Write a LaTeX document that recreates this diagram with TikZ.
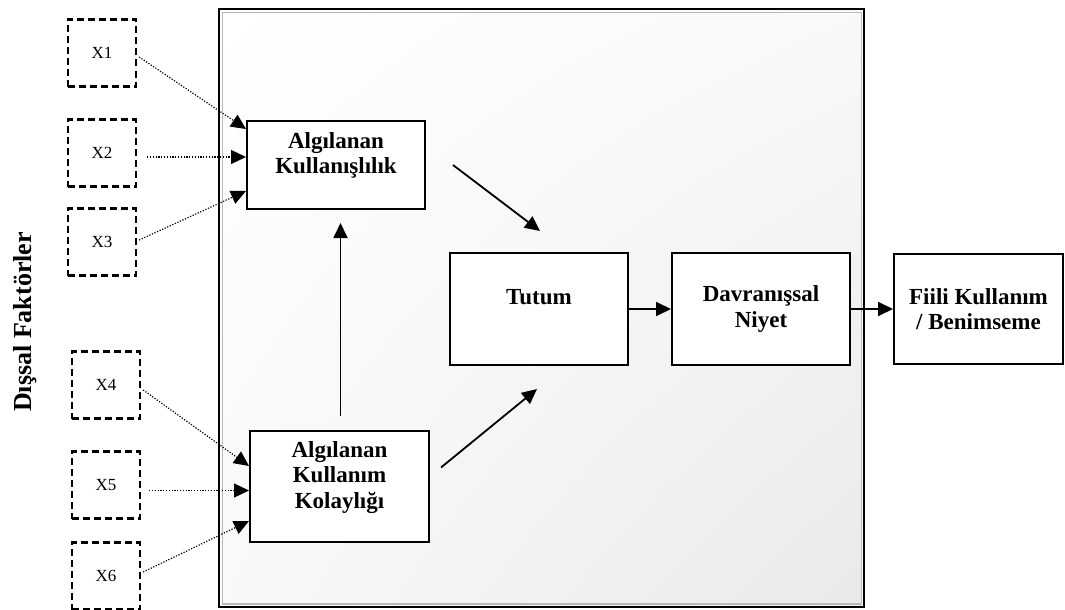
\documentclass[tikz,border=0pt]{standalone}
\usepackage{fontspec}
\setmainfont{Liberation Serif}
\usepackage{tikz}
\usetikzlibrary{arrows.meta,calc,shadings}
\tikzset{
  kutu/.style   = {draw, line width=2pt, fill=white, align=center, inner sep=2pt,
                   font=\bfseries\fontsize{23}{25.5}\selectfont},
  dis/.style    = {draw, line width=2.3pt, dash pattern=on 7pt off 4pt,
                   minimum width=68pt, minimum height=67pt,
                   font=\fontsize{17}{20}\selectfont},
  ok/.style     = {->, line width=1.8pt},
  nokta/.style  = {->, line width=1.2pt, dash pattern=on 1.2pt off 1.6pt}
}

\begin{document}
\begin{tikzpicture}[x=1pt,y=-1pt,>={Triangle[length=15pt,width=14pt]}]
  \useasboundingbox (0,0) rectangle (1065,610);
  % cerceve
  \shade[upper left=white, upper right=gray!5, lower left=gray!5, lower right=gray!17]
    (221,11) rectangle (862,605);
  \draw[line width=2.8pt] (219,9) rectangle (864,607);
  \draw[gray!55, line width=1.3pt] (222.5,12.5) rectangle (861.5,604);

  \node[rotate=90, font=\bfseries\fontsize{26}{30}\selectfont] (df) at (25,322) {Dışsal Faktörler};

  \node[dis] (x1) at (102,53)  {X1};
  \node[dis] (x2) at (102,153) {X2};
  \node[dis] (x3) at (102,242) {X3};
  \node[dis] (x4) at (106,385) {X4};
  \node[dis] (x5) at (106,485) {X5};
  \node[dis] (x6) at (106,576) {X6};

  \node[kutu, minimum width=178pt, minimum height=88pt]  (ak)  at (336,165)   {Algılanan\\Kullanışlılık\\[-9pt]\strut};
  \node[kutu, minimum width=179pt, minimum height=111pt] (akk) at (339.5,486.5) {Algılanan\\Kullanım\\Kolaylığı\\[-10pt]\strut};
  \node[kutu, minimum width=178pt, minimum height=112pt] (tu)  at (539,309)   {Tutum\\[-9pt]\strut};
  \node[kutu, minimum width=178pt, minimum height=112pt] (dn)  at (761,309)   {Davranışsal\\Niyet};
  \node[kutu, minimum width=169pt, minimum height=110pt] (fk)  at (978.5,309) {Fiili Kullanım\\/ Benimseme};

  \coordinate (m2) at ($(ak.west)+(0,-8)$);
  \coordinate (m5) at ($(akk.west)+(0,4)$);

  \draw[nokta] ($(x1.east)+(2,4)$) -- ($(ak.north west)+(0,9)$);
  \draw[nokta, shorten <=10pt] (x2.east |- m2) -- (m2);
  \draw[nokta] ($(x3.east)+(2,-2)$) -- ($(ak.south west)+(0,-19)$);
  \draw[nokta] ($(x4.east)+(2,5)$) -- ($(akk.north west)+(0,36)$);
  \draw[nokta, shorten <=8pt] (x5.east |- m5) -- (m5);
  \draw[nokta] ($(x6.east)+(2,-4)$) -- ($(akk.south west)+(0,-22)$);

  \draw[ok] ($(akk.north)+(1,-14)$) -- ($(akk.north |- ak.south)+(1,13)$);
  \draw[ok] ($(ak.east)+(27,0)$) -- ($(tu.north)+(1,-21)$);
  \draw[ok] ($(akk.east)+(11,-19)$) -- ($(tu.south)+(-2,23)$);
  \draw[ok] (tu.east) -- (dn.west);
  \draw[ok] (dn.east) -- (fk.west);
\end{tikzpicture}
\end{document}
